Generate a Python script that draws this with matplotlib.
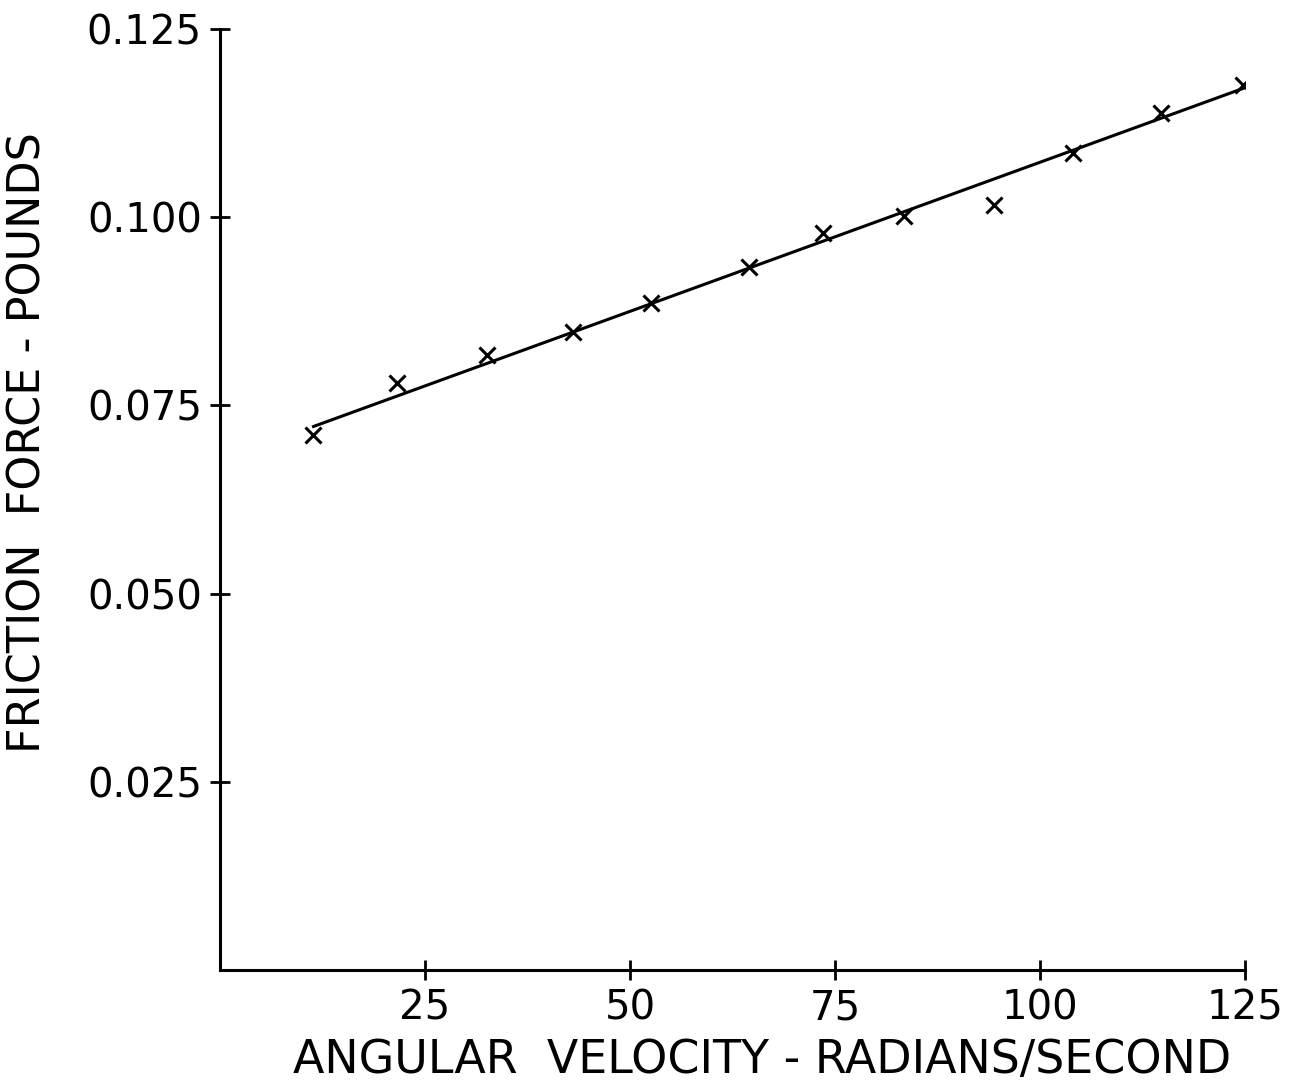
import numpy as np
import matplotlib.pyplot as plt

# datos
velocidad = [11.4, 21.6, 32.6, 43.0, 52.5, 64.5, 73.5, 83.4, 94.4, 104.0, 114.8, 124.8]
friccion = [0.0711, 0.0780, 0.0817, 0.0847, 0.0886, 0.0934, 0.0979, 0.1001, 0.1016, 0.1085, 0.1138, 0.1176]

# recta ajustada (extremos)
recta_x = [11.4, 125.0]
recta_y = [0.0722, 0.1172]

xticks = [25, 50, 75, 100, 125]
xtick_labels = ['25', '50', '75', '100', '125']
yticks = [0.025, 0.050, 0.075, 0.100, 0.125]
ytick_labels = ['0.025', '0.050', '0.075', '0.100', '0.125']

plt.rcParams['font.family'] = ['DejaVu Sans']

fig = plt.figure(figsize=(12.89, 10.91), dpi=100)
ax = fig.add_axes([220 / 1289, 1 - 970 / 1091, (1245 - 220) / 1289, (970 - 29) / 1091])

ax.plot(recta_x, recta_y, color='black', linewidth=2.2)
ax.plot(velocidad, friccion, linestyle='none', marker='x', color='black',
        markersize=11, markeredgewidth=2.2)

ax.set_xlim(0, 125)
ax.set_ylim(0, 0.125)
ax.spines['top'].set_visible(False)
ax.spines['right'].set_visible(False)
for s in ['left', 'bottom']:
    ax.spines[s].set_linewidth(2.2)

ax.set_xticks(xticks)
ax.set_xticklabels(xtick_labels)
ax.set_yticks(yticks)
ax.set_yticklabels(ytick_labels)
ax.tick_params(direction='inout', length=14, width=2, labelsize=29, pad=6)

ax.set_xlabel('ANGULAR  VELOCITY - RADIANS/SECOND', fontsize=33)
ax.xaxis.set_label_coords(0.529, -0.072)
ax.set_ylabel('FRICTION  FORCE - POUNDS', fontsize=32)
ax.yaxis.set_label_coords(-0.166, 0.56)

plt.savefig('out.png', dpi=100)
